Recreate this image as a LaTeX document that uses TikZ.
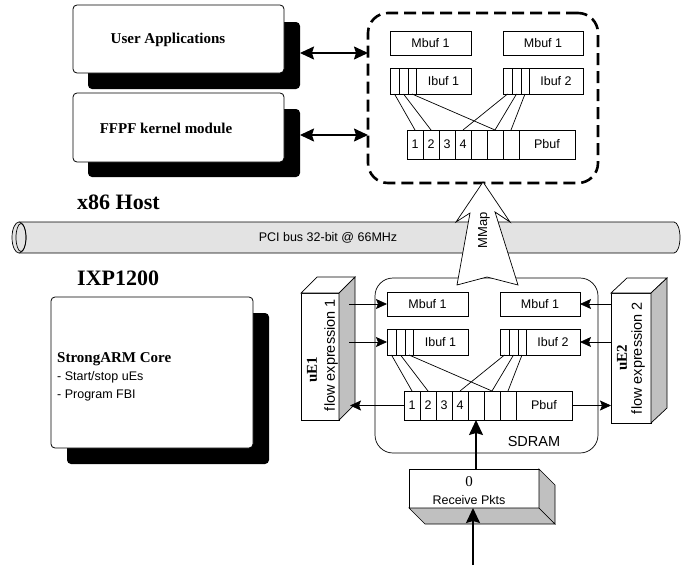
\documentclass[tikz,border=0pt]{standalone}
\usepackage{fontspec}
\setmainfont{Liberation Serif}
\setsansfont{Liberation Sans}
\usetikzlibrary{arrows.meta,calc}
\definecolor{busgray}{HTML}{E3E3E3}
\definecolor{facegray}{HTML}{C0C0C0}
\newcommand{\fsz}[1]{\fontsize{#1}{#1}\selectfont}
\tikzset{
  lw/.style={line width=0.7pt},
  cell/.style={draw, line width=0.7pt, rectangle, inner sep=0pt, outer sep=0pt, anchor=north west, fill=white, font=\sffamily\fsz{12.5}},
  roundbox/.style={draw, line width=0.8pt, fill=white, rounded corners=4pt, anchor=north west, inner sep=0pt, outer sep=0pt},
  shadowbox/.style={fill=black, rounded corners=4pt, anchor=north west, inner sep=0pt, outer sep=0pt},
  titletext/.style={font=\bfseries\fsz{22}, anchor=base west, inner sep=0pt},
  boxtext/.style={font=\bfseries\fsz{15}, inner sep=0pt},
  sanstext/.style={font=\sffamily\fsz{12.5}, inner sep=0pt},
  facebox/.style={draw, line width=0.7pt, fill=white, anchor=north west, inner sep=0pt, outer sep=0pt},
  arr/.style={-{Stealth[length=11pt,width=10pt,inset=2pt]}, line width=0.7pt},
  bigarr/.style={-{Stealth[length=15pt,width=14pt,inset=2pt]}, line width=1.4pt},
  dblarr/.style={{Stealth[length=14pt,width=13pt,inset=2pt]}-{Stealth[length=14pt,width=13pt,inset=2pt]}, line width=1.4pt},
}
\newcommand{\bufgroup}[3]{%
\begin{scope}[shift={(#2,#3)}]
  \node[cell, minimum width=81, minimum height=24] (#1-mL) at (0,0) {Mbuf 1};
  \node[cell, minimum width=80, minimum height=24] (#1-mR) at (113,0) {Mbuf 1};
  \node[cell, minimum width=9, minimum height=26] (#1-iL1) at (0,37) {};
  \node[cell, minimum width=9, minimum height=26] (#1-iL2) at (9,37) {};
  \node[cell, minimum width=8, minimum height=26] (#1-iL3) at (18,37) {};
  \node[cell, minimum width=55, minimum height=26] (#1-iLt) at (26,37) {Ibuf 1};
  \node[cell, minimum width=9, minimum height=26] (#1-iR1) at (113,37) {};
  \node[cell, minimum width=9, minimum height=26] (#1-iR2) at (122,37) {};
  \node[cell, minimum width=8, minimum height=26] (#1-iR3) at (131,37) {};
  \node[cell, minimum width=54, minimum height=26] (#1-iRt) at (139,37) {Ibuf 2};
  \node[cell, minimum width=16, minimum height=29] (#1-p1) at (17,99) {1};
  \node[cell, minimum width=16, minimum height=29] (#1-p2) at (33,99) {2};
  \node[cell, minimum width=16, minimum height=29] (#1-p3) at (49,99) {3};
  \node[cell, minimum width=16, minimum height=29] (#1-p4) at (65,99) {4};
  \node[cell, minimum width=16, minimum height=29] (#1-p5) at (81,99) {};
  \node[cell, minimum width=16, minimum height=29] (#1-p6) at (97,99) {};
  \node[cell, minimum width=16, minimum height=29] (#1-p7) at (113,99) {};
  \node[cell, minimum width=56, minimum height=29] (#1-pt) at (129,99) {Pbuf};
  \draw[lw] (#1-iL1.south) -- (#1-p1.north);
  \draw[lw] (#1-iL2.south) -- (#1-p2.north);
  \draw[lw] (#1-iL3.south) -- (#1-p6.north);
  \draw[lw] (#1-iR1.south) -- (#1-p4.north);
  \draw[lw] (#1-iR2.south) -- (#1-p6.north);
  \draw[lw] (#1-iR3.south) -- (#1-p7.north);
\end{scope}}
\begin{document}
\begin{tikzpicture}[x=1pt,y=-1pt]
\useasboundingbox (0,0) rectangle (688,570);

% ---------- host side
\node[shadowbox, minimum width=212, minimum height=67] (uash) at (88,22) {};
\node[roundbox, minimum width=211, minimum height=68] (ua) at (73,5) {};
\node[boxtext] (uatext) at (168,40) {User Applications};
\node[shadowbox, minimum width=212, minimum height=68] (ffsh) at (88,109) {};
\node[roundbox, minimum width=211, minimum height=69] (ff) at (73,93) {};
\node[boxtext] (fftext) at (166,128) {FFPF kernel module};

\node[draw, line width=2.6pt, dash pattern=on 12pt off 6pt, rounded corners=20pt,
      minimum width=230, minimum height=170, anchor=north west, inner sep=0pt, outer sep=0pt] (host) at (368,13) {};
\bufgroup{up}{390}{31}

\coordinate (uaarr) at ($(uash.east)+(0,-2.5)$);
\coordinate (ffarr) at ($(ffsh.east)+(0,-8)$);
\draw[dblarr] (uaarr) -- (uaarr -| host.west);
\draw[dblarr] (ffarr) -- (ffarr -| host.west);

\node[titletext] (x86) at (77,209) {x86 Host};

% ---------- PCI bus
\fill[busgray] (19,222) rectangle (674,253);
\draw[lw, fill=busgray] (19,222) -- (674,222) arc[start angle=90, end angle=-90, x radius=6pt, y radius=15.5pt] -- (19,253);
\draw[lw, fill=busgray] (19,237.5) ellipse[x radius=7pt, y radius=15.5pt];
\draw[lw] (21,237.5) ellipse[x radius=5pt, y radius=14pt];
\node[sanstext] (pci) at (328,238) {PCI bus 32-bit @ 66MHz};

% ---------- IXP side
\node[titletext] (ixp) at (77,285) {IXP1200};
\node[shadowbox, minimum width=202, minimum height=151] (sash) at (67,313) {};
\node[roundbox, minimum width=202, minimum height=151] (sa) at (51,297) {};
\node[boxtext, anchor=base west] (sa1) at (57,362) {StrongARM Core};
\node[sanstext, anchor=base west] (sa2) at (57,380) {- Start/stop uEs};
\node[sanstext, anchor=base west] (sa3) at (57,398) {- Program FBI};

\node[draw, lw, rounded corners=18pt, minimum width=223, minimum height=175,
      anchor=north west, inner sep=0pt, outer sep=0pt] (sdram) at (375,278) {};
\node[font=\sffamily\fsz{14.5}] (sdramlabel) at (534,442) {SDRAM};

% MMap arrow
\draw[lw, fill=white] (483,182) -- (510,222) -- (495,212) -- (518,285) -- (487,277)
      -- (457,285) -- (470,213) -- (456,222) -- cycle;
\node[font=\sffamily\fsz{13}, rotate=90] (mmap) at (484,230) {MMap};

\bufgroup{lo}{387}{292}

% uE1
\node[facebox, minimum width=38, minimum height=127] (ue1) at (301,293) {};
\draw[lw, fill=white] (ue1.north west) -- ++(16,-16) -- ++(38,0) -- (ue1.north east) -- cycle;
\draw[lw, fill=facegray] (ue1.north east) -- ++(16,-16) -- ($(ue1.south east)+(16,-16)$) -- (ue1.south east) -- cycle;
\node[font=\bfseries\fsz{15}, rotate=90] (ue1a) at (312,370) {uE1};
\node[font=\sffamily\fsz{14.5}, rotate=90] (ue1b) at (331,355) {flow expression 1};

% uE2
\node[facebox, minimum width=40, minimum height=130] (ue2) at (611,293) {};
\draw[lw, fill=white] (ue2.north west) -- ++(16,-15) -- ++(40,0) -- (ue2.north east) -- cycle;
\draw[lw, fill=facegray] (ue2.north east) -- ++(16,-15) -- ($(ue2.south east)+(16,-15)$) -- (ue2.south east) -- cycle;
\node[font=\bfseries\fsz{15}, rotate=90] (ue2a) at (622,358) {uE2};
\node[font=\sffamily\fsz{14.5}, rotate=90] (ue2b) at (638,358) {flow expression 2};

% side arrows
\draw[arr] ($(ue1.east |- lo-mL.west)+(10,0)$) -- (lo-mL.west);
\draw[arr] ($(ue1.east |- lo-iL1.west)+(10,0)$) -- (lo-iL1.west);
\draw[arr] (lo-p1.west) -- ($(ue1.east |- lo-p1.west)+(11,0)$);
\draw[arr] (ue2.west |- lo-mR.east) -- (lo-mR.east);
\draw[arr] (ue2.west |- lo-iRt.east) -- (lo-iRt.east);
\draw[arr] (lo-pt.east) -- (ue2.west |- lo-pt.east);

% Receive Pkts
\node[facebox, minimum width=130, minimum height=39] (rx) at (409,469) {};
\draw[lw, fill=facegray] (rx.south west) -- ++(16,16) -- ($(rx.south east)+(16,16)$) -- (rx.south east) -- cycle;
\draw[lw, fill=facegray] (rx.north east) -- ++(16,16) -- ($(rx.south east)+(16,16)$) -- (rx.south east) -- cycle;
\node[font=\fsz{15}] (rx0) at (469,482) {0};
\node[sanstext] (rxl) at (469,500) {Receive Pkts};

\draw[bigarr] (rx.north -| lo-p5.south) -- (lo-p5.south);
\coordinate (pktin) at (473,565);
\draw[bigarr] (pktin) -- (pktin |- rx.south);
\end{tikzpicture}
\end{document}
